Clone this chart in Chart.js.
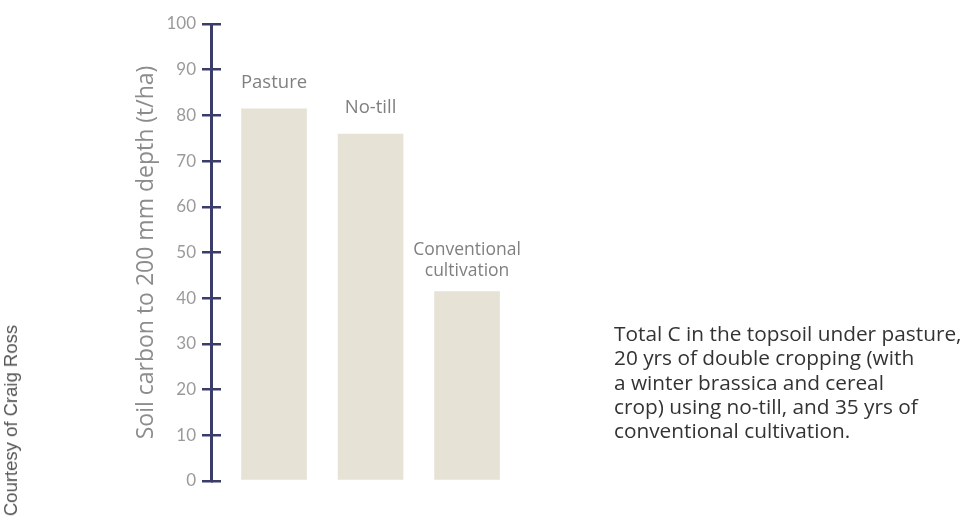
<!DOCTYPE html>
<html>
<head>
<meta charset="utf-8">
<script src="https://cdn.jsdelivr.net/npm/chart.js@4"></script>
<style>
  html, body { margin: 0; padding: 0; background: #ffffff; }
  #wrap { position: relative; width: 971px; height: 520px; overflow: hidden; }
  #chart { position: absolute; left: 0; top: 0; }
  #caption {
    position: absolute; left: 614px; top: 321px; width: 360px;
    font-family: "Open Sans", sans-serif; font-size: 20.8px; line-height: 24.3px;
    color: #333333; white-space: nowrap;
  }
  #credit {
    position: absolute; left: 0px; bottom: 4px;
    writing-mode: vertical-rl; transform: rotate(180deg);
    font-family: "Liberation Sans", Arial, sans-serif; font-size: 18.5px;
    color: #555555;
  }
</style>
</head>
<body>
<div id="wrap">
  <canvas id="chart" width="971" height="520"></canvas>
  <div id="caption">Total C in the topsoil under pasture,<br>20 yrs of double cropping (with<br>a winter brassica and cereal<br>crop) using no-till, and 35 yrs of<br>conventional cultivation.</div>
  <div id="credit">Courtesy of Craig Ross</div>
</div>
<script>
// ---- data ----
const categories = [["Pasture"], ["No-till"], ["Conventional", "cultivation"]];
const soilCarbon = [81.5, 76, 41.5];
const yTicks = [0, 10, 20, 30, 40, 50, 60, 70, 80, 90, 100];
const yTitle = "Soil carbon to 200 mm depth (t/ha)";

const AXIS_COLOR = "#3a3c6a";
const BAR_COLOR = "#e6e2d6";

const points = soilCarbon.map((v, i) => ({ x: i, y: v }));

const barLabels = {
  id: "barLabels",
  afterDatasetsDraw(chart) {
    const ctx = chart.ctx;
    const meta = chart.getDatasetMeta(0);
    ctx.save();
    ctx.fillStyle = "#808080";
    ctx.textAlign = "center";
    ctx.textBaseline = "bottom";
    meta.data.forEach((bar, i) => {
      const lines = categories[i];
      const multi = lines.length > 1;
      ctx.font = (multi ? "17.5px" : "18.5px") + " 'Open Sans', sans-serif";
      const lh = multi ? 21 : 0;
      lines.forEach((t, j) => {
        const y = bar.y - (multi ? 12 : 17) - (lines.length - 1 - j) * lh;
        ctx.fillText(t, bar.x, y);
      });
    });
    ctx.restore();
  }
};

new Chart(document.getElementById("chart"), {
  type: "bar",
  data: {
    datasets: [{
      data: points,
      backgroundColor: BAR_COLOR,
      borderWidth: 0,
      categoryPercentage: 1,
      barPercentage: 0.68
    }]
  },
  options: {
    responsive: false,
    animation: false,
    events: [],
    layout: { padding: { left: 133, top: 24, bottom: 39, right: 431 } },
    plugins: { legend: { display: false }, tooltip: { enabled: false } },
    scales: {
      x: {
        type: "linear",
        display: false,
        offset: false,
        grid: { offset: false },
        min: -0.653,
        max: 2.756,
        afterBuildTicks: (s) => { s.ticks = categories.map((c, i) => ({ value: i })); }
      },
      y: {
        position: "left",
        min: 0, max: 100,
        afterBuildTicks: (s) => { s.ticks = yTicks.map(v => ({ value: v })); },
        afterFit: (s) => { s.width = 78; },
        border: { display: true, color: AXIS_COLOR, width: 3 },
        grid: { drawOnChartArea: false, drawTicks: true, tickLength: 9, color: AXIS_COLOR, lineWidth: 2.5 },
        ticks: {
          padding: 6,
          color: "#9a9a9a",
          font: { family: "Lato, 'Open Sans', sans-serif", size: 17 }
        },
        title: {
          display: true,
          text: yTitle,
          color: "#8c8c8c",
          font: { family: "'Open Sans', sans-serif", size: 23 },
          padding: { top: 0, bottom: 0 }
        }
      },
      yRight: {
        position: { x: -0.549 },
        min: 0, max: 100,
        afterBuildTicks: (s) => { s.ticks = yTicks.map(v => ({ value: v })); },
        border: { display: false },
        grid: { drawOnChartArea: false, drawTicks: true, tickLength: 10, color: AXIS_COLOR, lineWidth: 2.5 },
        ticks: { display: false }
      }
    }
  },
  plugins: [barLabels]
});
</script>
</body>
</html>
